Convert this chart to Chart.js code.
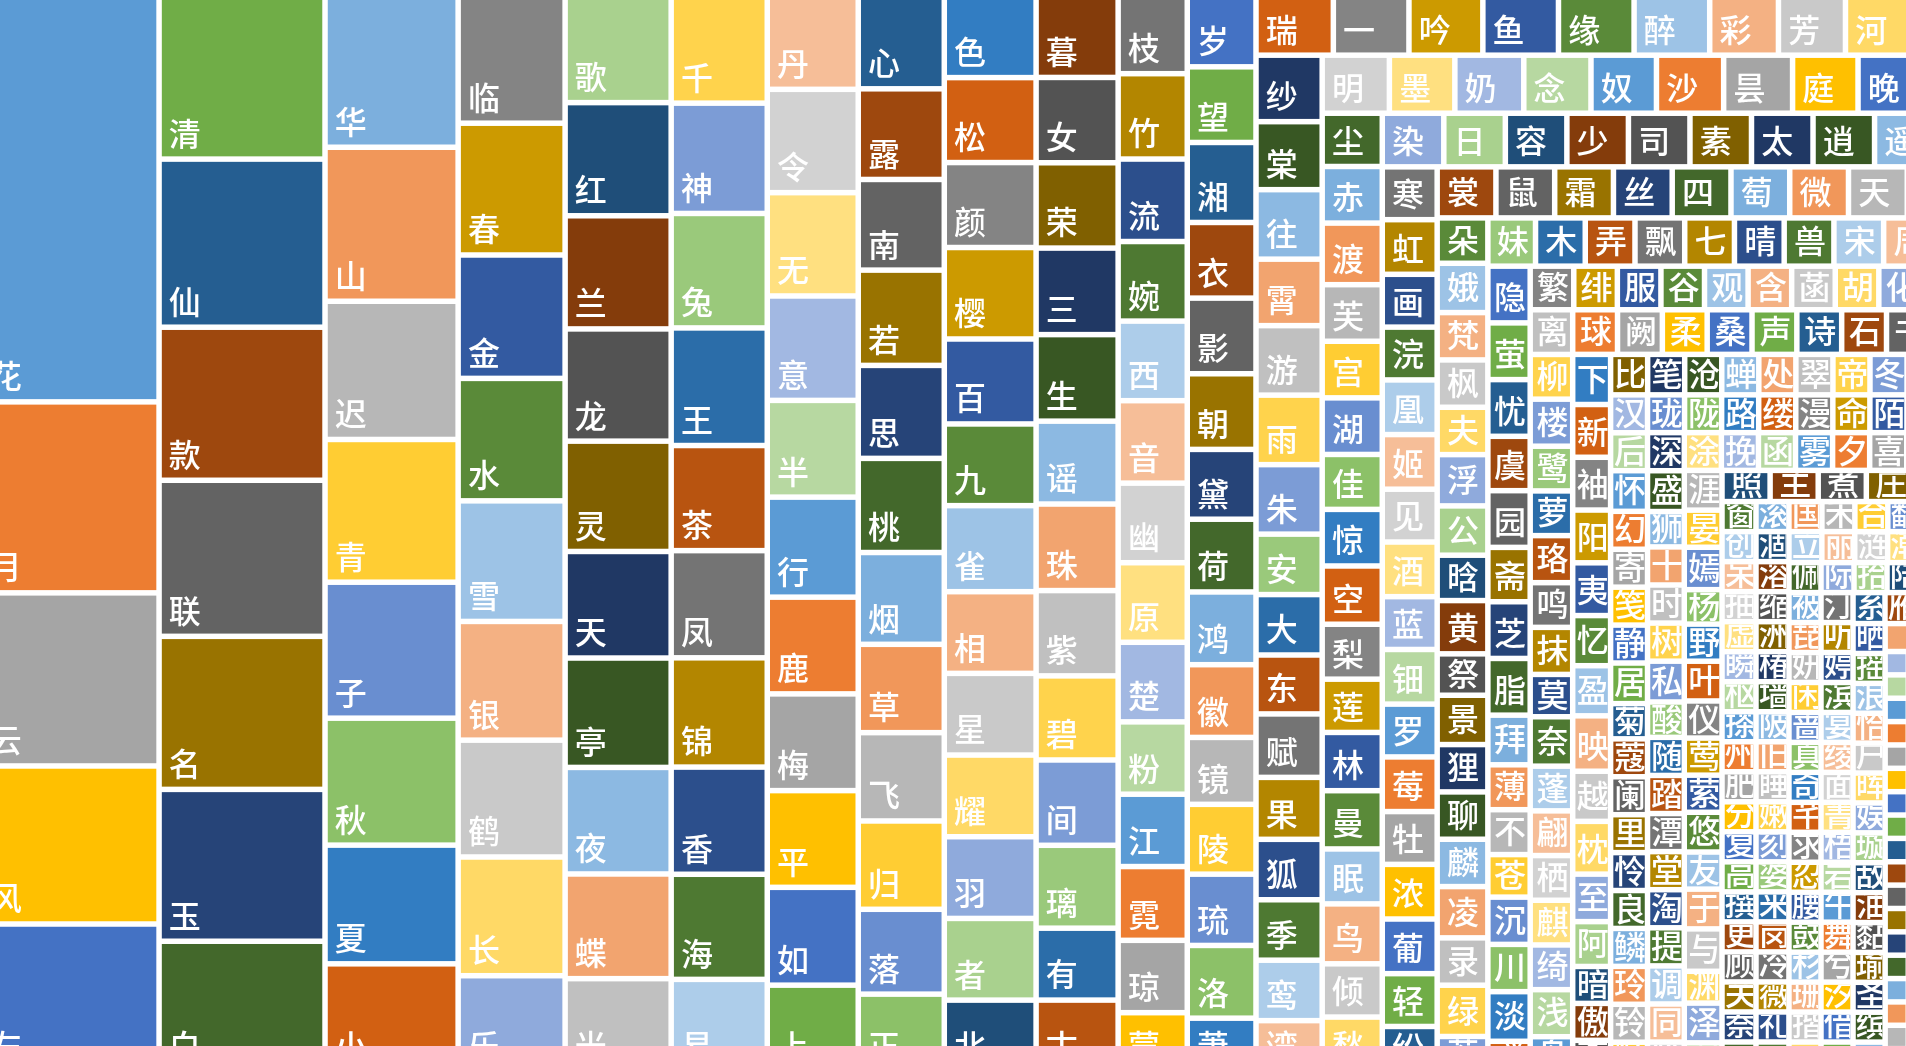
<!DOCTYPE html>
<html>
<head>
<meta charset="utf-8">
<script src="https://cdn.jsdelivr.net/npm/chart.js@4.4.1/dist/chart.umd.min.js"></script>
<style>
  html, body { margin: 0; padding: 0; background: #ffffff; overflow: hidden; }
  #wrap { width: 1906px; height: 1046px; position: relative; }
</style>
</head>
<body>
<div id="wrap"><canvas id="c"></canvas></div>
<script>
// ================= DATA =================
// Each strip: a string of characters (in order) and its values (cell sizes).
// Cells beyond the visible crop have no readable label.

// 12 left columns
const leftLabels = [
  '花月云风左', '清仙款联名玉白', '华山迟青子秋夏小', '临春金水雪银鹤长乐',
  '歌红兰龙灵天亭夜蝶光', '千神兔王茶凤锦香海易', '丹令无意半行鹿梅平如上',
  '心露南若思桃烟草飞归落正', '色松颜樱百九雀相星耀羽者北', '暮女荣三生谣珠紫碧间璃有古',
  '枝竹流婉西音幽原楚粉江霓琼蒙', '岁望湘衣影朝黛荷鸿徽镜陵琉洛萧'
];
const leftValues = [
  [725, 342, 310, 283, 265],
  [269, 279, 254, 259, 254, 252, 217],
  [200, 205, 184, 190, 181, 169, 158, 144],
  [135, 141, 132, 131, 129, 127, 125, 127, 103],
  [112, 120, 120, 119, 117, 113, 116, 113, 111, 99],
  [102, 106, 110, 113, 101, 103, 105, 103, 101, 89],
  [84, 94, 94, 95, 88, 91, 88, 88, 88, 89, 79],
  [79, 78, 78, 82, 80, 81, 79, 76, 76, 76, 73, 67],
  [74, 78, 78, 84, 78, 75, 79, 75, 75, 75, 75, 75, 66],
  [66, 70, 70, 71, 71, 68, 71, 70, 69, 70, 68, 59, 59],
  [53, 59, 57, 55, 55, 57, 55, 55, 55, 50, 50, 51, 50, 41],
  [48, 52, 55, 52, 52, 52, 48, 50, 50, 50, 46, 48, 49, 50, 37]
];
const leftDirs = 'vvvvvvvvvvvv';

// alternating rows / columns in the right part
const rightLabels = [
  '瑞一吟鱼缘醉彩芳河', '纱棠往霄游雨朱安大东赋果狐季鸾湾', '明墨奶念奴沙昙庭晚',
  '尘赤渡芙宫湖佳惊空梨莲林曼眠鸟倾愁', '染日容少司素太逍遥', '寒虹画浣凰姬见酒蓝钿罗莓牡浓葡轻纷',
  '裳鼠霜丝四萄微天', '朵娥梵枫夫浮公晗黄祭景狸聊麟凌录绿苔', '妹木弄飘七晴兽宋周',
  '隐萤忧虞园斋芝脂拜薄不苍沉川淡溪', '繁绯服谷观含菡胡化', '离柳楼鹭萝珞鸣抹莫奈蓬翩栖麒绮浅舟',
  '球阙柔桑声诗石书', '下新袖阳夷忆盈映越枕至阿暗傲杏', '比笔沧蝉处翠帝冬',
  '汉后怀幻寄笺静居菊蔻阑里怜良鳞玲铃灯', '珑陇路缕漫命陌', '深盛狮十时树私酸随踏潭堂淘提调同竺',
  '涂挽函雾夕喜', '涯晏嫣杨野叶仪莺萦悠友于与渊泽瀑', '照主煮庄'
];
const rightValues = [
  [45, 44, 43, 44, 44, 44, 40, 39, 39, 39, 39, 39, 39, 39, 39],
  [44, 45, 46, 44, 46, 46, 46, 40, 40, 39, 42, 41, 40, 40, 40, 34],
  [39, 38, 40, 39, 38, 39, 40, 38, 37, 38, 38, 38, 38, 38, 38],
  [32, 34, 37, 34, 34, 34, 33, 34, 35, 33, 32, 35, 35, 33, 36, 32, 33],
  [33, 33, 33, 33, 33, 33, 33, 33, 33, 29, 29, 29, 29, 29, 29, 29],
  [29, 30, 29, 29, 30, 30, 29, 30, 29, 30, 29, 30, 29, 30, 30, 29, 25],
  [30, 30, 30, 30, 30, 30, 30, 30, 26, 26, 26, 26, 26, 26, 26, 26],
  [23, 25, 24, 24, 24, 26, 25, 23, 27, 21, 25, 24, 24, 24, 26, 24, 26, 18],
  [23, 24, 24, 24, 24, 24, 24, 24, 24, 23, 23, 23, 23, 23, 23, 23, 23],
  [24, 24, 24, 23, 24, 23, 24, 24, 21, 19, 19, 18, 20, 20, 21, 13],
  [19, 19, 19, 19, 19, 19, 19, 19, 19, 19, 19, 19, 19, 19, 19, 19, 19, 19],
  [19, 19, 20, 19, 19, 20, 19, 20, 18, 21, 19, 19, 19, 19, 19, 20, 15],
  [20, 20, 20, 20, 20, 20, 20, 20, 19, 19, 19, 19, 19, 19, 19, 19, 19],
  [19, 20, 20, 20, 20, 19, 19, 21, 19, 20, 18, 17, 14, 14, 12],
  [15, 15, 15, 15, 15, 15, 15, 15, 15, 15, 15, 15, 15, 15, 15, 15, 15, 15, 15],
  [14, 14, 15, 14, 14, 14, 14, 15, 13, 14, 14, 14, 14, 14, 14, 14, 14, 11],
  [14, 14, 14, 14, 14, 14, 14, 14, 14, 14, 14, 14, 14, 14, 14, 14, 14, 14],
  [14, 15, 13, 14, 14, 14, 15, 13, 14, 14, 14, 14, 14, 14, 14, 14, 11],
  [14, 14, 14, 14, 14, 14, 14, 14, 14, 14, 14, 14, 14, 14, 14, 14, 14],
  [15, 14, 16, 13, 14, 15, 14, 14, 14, 15, 14, 15, 16, 12, 15, 11],
  [15, 15, 15, 15, 9.6, 9.6, 9.6, 9.6, 9.6, 9.6, 9.6, 9.6, 9.6, 9.6, 9.6, 9.6, 9.6]
];
const rightDirs = 'hvhvhvhvhvhvhvhvhvhvh';

// small cells at the far right
const tailLabels = [
  '窗创呆抽虚瞬枢搽州肥分复高撰更顾关萘', '滚国禾合翻', '涸溶缩洲椿墙陂旧睡嫩刻婆来岗冷薇礼',
  '立丽涟潮', '佩被琵妍闲蔷真奇芊求忍腰鼓杉珊揩', '际拾陆', '汀听婷滨宴绫面菁梧岩午舞兮汐借',
  '系雁', '晒摇浪恰户晖娱璇敌油黏瑜圣缤', '词', ''
];
const tailValues = [
  [10.2, 10.2, 10.2, 10.2, 10.2, 10.2, 10.2, 10.2, 10.2, 10.2, 10.2, 10.2, 10.2, 10.2, 10.2, 10.2, 10.2, 10.2, 10.2],
  [9.9, 9.9, 9.9, 9.9, 9.9, 9.1, 9.1, 9.1, 9.1, 9.1, 9.1, 9.1, 9.1, 9.1, 9.1, 9.1, 9.1, 9.1],
  [9.9, 9.9, 9.9, 9.9, 9.9, 9.9, 9.9, 9.9, 9.9, 9.9, 9.9, 9.9, 9.9, 9.9, 9.9, 9.9, 9.9, 9.9],
  [10.2, 10.2, 10.2, 10.2, 9.4, 9.4, 9.4, 9.4, 9.4, 9.4, 9.4, 9.4, 9.4, 9.4, 9.4, 9.4, 9.4],
  [9.6, 9.6, 9.6, 9.6, 9.6, 9.6, 9.6, 9.6, 9.6, 9.6, 9.6, 9.6, 9.6, 9.6, 9.6, 9.6, 9.6],
  [9.9, 9.9, 9.9, 9.1, 9.1, 9.1, 9.1, 9.1, 9.1, 9.1, 9.1, 9.1, 9.1, 9.1, 9.1, 9.1],
  [9.6, 9.6, 9.6, 9.6, 9.6, 9.6, 9.6, 9.6, 9.6, 9.6, 9.6, 9.6, 9.6, 9.6, 9.6, 9.6],
  [9.9, 9.9, 8.8, 8.8, 8.8, 8.8, 8.8, 8.8, 8.8, 8.8, 8.8, 8.8, 8.8, 8.8, 8.8, 8.8],
  [9.6, 9.6, 9.6, 9.6, 9.6, 9.6, 9.6, 9.6, 9.6, 9.6, 9.6, 9.6, 9.6, 9.6, 9.6],
  [8.0, 8.0, 8.0, 8.0, 8.0, 8.0, 8.0, 8.0, 8.0, 8.0, 8.0, 8.0, 8.0, 8.0, 8.0],
  [5.4, 5.4, 5.4, 5.4, 5.4, 5.4, 5.4, 5.4, 5.4, 5.4, 5.4, 5.4, 5.4, 5.4, 5.4, 5.4, 5.4, 5.4]
];
const tailDirs = 'vhvhvhvhvhv';
// the rest of the map lies outside the crop (placed automatically)
const restValues = [106.8, 106.8, 106.8, 106.8, 106.8, 106.8, 106.8, 106.8,
                    106.8, 106.8, 106.8, 106.8, 106.8, 106.8, 106.8, 106.8];

// ================= build flat series =================
const stripLabels = [...leftLabels, ...rightLabels, ...tailLabels];
const stripValues = [...leftValues, ...rightValues, ...tailValues];
const stripDirs = leftDirs + rightDirs + tailDirs;
if (stripLabels.length !== stripValues.length || stripDirs.length !== stripValues.length) {
  throw new Error('strip definition mismatch ' + stripLabels.length + ' ' + stripValues.length + ' ' + stripDirs.length);
}
const labels = [], values = [], groups = [];
stripValues.forEach((vals, s) => {
  const chars = Array.from(stripLabels[s]);
  if (chars.length > vals.length) throw new Error('too many labels in strip ' + s);
  vals.forEach((v, k) => { values.push(v); labels.push(chars[k] || ''); });
  groups.push(vals.length);
});
restValues.forEach(v => { values.push(v); labels.push(''); });

// ================= Excel-like colour sequence =================
const ACCENTS = ['#5B9BD5', '#ED7D31', '#A5A5A5', '#FFC000', '#4472C4', '#70AD47'];
const SHADES = [[1, 0], [0.6, 0], [0.8, 0.2], [0.8, 0], [0.6, 0.4], [0.5, 0], [0.7, 0.3], [0.7, 0], [0.5, 0.5]];
function shade(hex, mod, off) {
  const r = parseInt(hex.slice(1, 3), 16) / 255, g = parseInt(hex.slice(3, 5), 16) / 255, b = parseInt(hex.slice(5, 7), 16) / 255;
  const mx = Math.max(r, g, b), mn = Math.min(r, g, b);
  let h = 0, s = 0, l = (mx + mn) / 2;
  if (mx !== mn) {
    const d = mx - mn;
    s = l > 0.5 ? d / (2 - mx - mn) : d / (mx + mn);
    if (mx === r) h = (g - b) / d + (g < b ? 6 : 0);
    else if (mx === g) h = (b - r) / d + 2;
    else h = (r - g) / d + 4;
    h /= 6;
  }
  l = Math.min(1, Math.max(0, l * mod + off));
  const f = (p, q, t) => { if (t < 0) t += 1; if (t > 1) t -= 1; if (t < 1 / 6) return p + (q - p) * 6 * t; if (t < 1 / 2) return q; if (t < 2 / 3) return p + (q - p) * (2 / 3 - t) * 6; return p; };
  let R, G, B;
  if (s === 0) { R = G = B = l; } else {
    const q = l < 0.5 ? l * (1 + s) : l + s - l * s, p = 2 * l - q;
    R = f(p, q, h + 1 / 3); G = f(p, q, h); B = f(p, q, h - 1 / 3);
  }
  return 'rgb(' + Math.round(R * 255) + ',' + Math.round(G * 255) + ',' + Math.round(B * 255) + ')';
}
const palette = [];
SHADES.forEach(([m, o]) => ACCENTS.forEach(a => palette.push(shade(a, m, o))));

// ================= strip treemap layout =================
function worst(areas, side) {
  let s = 0, mx = -Infinity, mn = Infinity;
  areas.forEach(a => { s += a; mx = Math.max(mx, a); mn = Math.min(mn, a); });
  return Math.max(side * side * mx / (s * s), (s * s) / (side * side * mn));
}
function layoutStrips(vals, grp, dirs, frame) {
  const areas = vals.map(v => v * frame.unit);
  const total = areas.reduce((a, b) => a + b, 0);
  let rx = frame.x, ry = frame.y, rh = frame.h, rw = total / frame.h;
  const out = new Array(vals.length);
  let i = 0, g = 0;
  while (i < areas.length) {
    let cnt, dir;
    if (g < grp.length) { cnt = grp[g]; dir = dirs[g]; g++; }
    else {
      dir = rw >= rh ? 'v' : 'h';
      const side = dir === 'v' ? rh : rw;
      cnt = 1;
      let best = worst(areas.slice(i, i + 1), side);
      while (i + cnt < areas.length) {
        const w2 = worst(areas.slice(i, i + cnt + 1), side);
        if (w2 > best) break;
        best = w2; cnt++;
      }
    }
    cnt = Math.min(cnt, areas.length - i);
    const seg = areas.slice(i, i + cnt);
    const s = seg.reduce((a, b) => a + b, 0);
    if (dir === 'v') {
      const cw = s / rh; let yy = ry;
      seg.forEach((a, k) => { const ch = a / cw; out[i + k] = { x0: rx, x1: rx + cw, y0: yy, y1: yy + ch }; yy += ch; });
      rx += cw; rw -= cw;
    } else {
      const chh = s / rw; let xx = rx;
      seg.forEach((a, k) => { const cww = a / chh; out[i + k] = { x0: xx, x1: xx + cww, y0: ry, y1: ry + chh }; xx += cww; });
      ry += chh; rh -= chh;
    }
    i += cnt;
  }
  return out;
}

// ================= Chart.js element + controller =================
class StripCell extends Chart.Element {
  draw(ctx) {
    const w = this.x1 - this.x0, h = this.y1 - this.y0;
    if (w <= 0 || h <= 0) return;
    ctx.fillStyle = this.options.backgroundColor;
    ctx.fillRect(this.x0, this.y0, w, h);
  }
  inRange() { return false; }
  inXRange() { return false; }
  inYRange() { return false; }
  getCenterPoint() { return { x: (this.x0 + this.x1) / 2, y: (this.y0 + this.y1) / 2 }; }
  tooltipPosition() { return this.getCenterPoint(); }
}
StripCell.id = 'stripcell';
StripCell.defaults = { backgroundColor: '#999999', labelColor: '#ffffff' };

class StripTreemapController extends Chart.DatasetController {
  update(mode) {
    const meta = this._cachedMeta;
    this.updateElements(meta.data, 0, meta.data.length, mode);
  }
  updateElements(cells, start, count, mode) {
    const meta = this._cachedMeta;
    const xs = meta.xScale, ys = meta.yScale;
    const ds = this.getDataset();
    const rects = layoutStrips(ds.data, ds.groups, ds.dirs, ds.frame);
    const g = ds.gap / 2;
    for (let i = start; i < start + count; i++) {
      const r = rects[i];
      const a = xs.getPixelForValue(r.x0), b = xs.getPixelForValue(r.x1);
      const c = ys.getPixelForValue(r.y0), d = ys.getPixelForValue(r.y1);
      const props = {
        x0: Math.min(a, b) + g, x1: Math.max(a, b) - g,
        y0: Math.min(c, d) + g, y1: Math.max(c, d) - g,
        options: this.resolveDataElementOptions(i, mode)
      };
      props.x = (props.x0 + props.x1) / 2; props.y = (props.y0 + props.y1) / 2;
      Object.assign(cells[i], props);
    }
  }
  draw() {
    super.draw();
    const ctx = this.chart.ctx;
    const ds = this.getDataset();
    const lab = this.chart.data.labels;
    const st = ds.labelStyle;
    const W = this.chart.width, H = this.chart.height;
    ctx.save();
    ctx.font = st.font;
    ctx.fillStyle = st.color;
    ctx.textAlign = 'left';
    ctx.textBaseline = 'ideographic';
    this._cachedMeta.data.forEach((el, i) => {
      const t = lab[i];
      if (!t) return;
      const w = el.x1 - el.x0, h = el.y1 - el.y0;
      if (w < st.minW || h < st.minH) return;
      if (el.x1 < 0 || el.x0 > W || el.y1 < 0 || el.y0 > H) return;
      const px = Math.max(0, Math.min(st.pad, (w - st.glyph) / 2));
      const py = Math.max(0, Math.min(st.pad, (h - st.glyph) / 2));
      ctx.save();
      ctx.beginPath();
      ctx.rect(el.x0, el.y0, w, h);
      ctx.clip();
      ctx.fillText(t, el.x0 + px, el.y1 - py);
      ctx.restore();
    });
    ctx.restore();
  }
}
StripTreemapController.id = 'striptreemap';
StripTreemapController.defaults = { datasetElementType: false, dataElementType: 'stripcell' };
StripTreemapController.overrides = { scales: { x: { type: 'linear' }, y: { type: 'linear' } } };
Chart.register(StripCell, StripTreemapController);

// ================= chart =================
new Chart(document.getElementById('c'), {
  type: 'striptreemap',
  data: {
    labels: labels,
    datasets: [{
      data: values,
      groups: groups,
      dirs: stripDirs,
      frame: { x: -20, y: -3, h: 1075, unit: 100 },
      gap: 5.5,
      backgroundColor: (ctx) => palette[ctx.dataIndex % palette.length],
      labelStyle: { font: '500 32px "Noto Sans CJK SC"', color: '#ffffff', pad: 7, glyph: 30, minW: 24, minH: 20 }
    }]
  },
  options: {
    responsive: true,
    maintainAspectRatio: false,
    devicePixelRatio: 1,
    animation: false,
    events: [],
    layout: { padding: 0 },
    plugins: { legend: { display: false }, tooltip: { enabled: false } },
    scales: {
      x: { type: 'linear', min: 0, max: 1906, display: false },
      y: { type: 'linear', min: 0, max: 1046, reverse: true, display: false }
    }
  }
});
</script>
</body>
</html>
